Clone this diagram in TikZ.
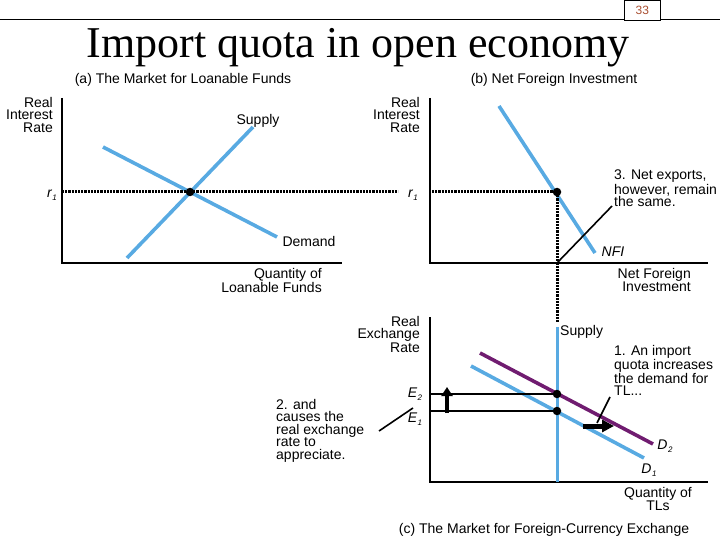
\documentclass[tikz,border=0pt]{standalone}
\usepackage{fontspec}
\setmainfont{Liberation Sans}
\newfontfamily\titlefont{Liberation Serif}
\usetikzlibrary{arrows.meta}
\definecolor{curveblue}{RGB}{88,170,226}
\definecolor{curvepurple}{RGB}{112,28,112}
\definecolor{pagenum}{RGB}{170,80,50}
\tikzset{
  lbl/.style={inner sep=0pt, font=\fontsize{14}{12.5}\selectfont},
  axis/.style={line width=2.6pt},
  curve/.style={line width=3.6pt, color=curveblue},
  curveD/.style={line width=3.6pt, color=curvepurple},
  dotline/.style={line width=3pt, dash pattern=on 2.2pt off 1pt},
  guide/.style={line width=1.6pt},
  eqdot/.style={circle, fill=black, inner sep=0pt, minimum size=8.5pt},
  pointer/.style={line width=1.6pt},
}
\begin{document}
\begin{tikzpicture}[x=1pt,y=-1pt]
\useasboundingbox (0,0) rectangle (720,540);
% header
\draw[line width=1pt] (0,20) -- (720,20);
\node[draw, line width=0.6pt, fill=white, minimum width=36pt, minimum height=20pt, inner sep=0pt, anchor=north west, font=\fontsize{12}{12}\selectfont, text=pagenum] (pg) at (624,0) {33};
\node[inner sep=0pt, font=\titlefont\fontsize{44}{44}\selectfont] (title) at (358,48) {Import quota in open economy};

% ===== panel (a)
\node[lbl] (ta) at (183,80) {(a) The Market for Loanable Funds};
\coordinate (aO) at (62,263);
\coordinate (aT) at (62,98);
\coordinate (aR) at (342,263);
\draw[axis] (aT) -- (aO) -- (aR);
\node[lbl, align=right, anchor=north east] (ay) at (53,97) {Real\\Interest\\Rate};
\coordinate (sa1) at (127,258);
\coordinate (sa2) at (253,127);
\coordinate (da1) at (103,147);
\coordinate (da2) at (277,237);
\draw[curve] (sa1) -- (sa2);
\draw[curve] (da1) -- (da2);
\node[lbl] (suppa) at (258,121) {Supply};
\node[lbl] (dema) at (309,241) {Demand};
\node[lbl, align=right, anchor=north east] (qa) at (322,268) {Quantity of\\Loanable Funds};
\node[lbl] (r1a) at (52,195) {\itshape r\kern0.5pt\raisebox{-2.5pt}{\fontsize{8}{8}\selectfont 1}};
\node[eqdot] (ea) at (190,192) {};

% ===== panel (b)
\node[lbl] (tb) at (554,80) {(b) Net Foreign Investment};
\coordinate (bO) at (430,263);
\coordinate (bT) at (430,98);
\coordinate (bR) at (708,263);
\draw[axis] (bT) -- (bO) -- (bR);
\node[lbl, align=right, anchor=north east] (by) at (420,97) {Real\\Interest\\Rate};
\coordinate (n1) at (499,106);
\coordinate (n2) at (595,253);
\draw[curve] (n1) -- (n2);
\node[lbl] (nfi) at (613,252) {\itshape NFI};
\node[lbl, align=right, anchor=north east] (qb) at (691,268) {Net Foreign\\Investment};
\node[lbl] (r1b) at (413,195) {\itshape r\kern0.5pt\raisebox{-2.5pt}{\fontsize{8}{8}\selectfont 1}};
\node[eqdot] (eb) at (557,192) {};
\node[lbl, align=left, anchor=north west] (n3) at (614,170) {3. Net exports,\\however, remain\\the same.};
\coordinate (p3a) at (557,263);
\coordinate (p3b) at (612,206);
\draw[pointer] (p3a) -- (p3b);

% dotted r1 line
\coordinate (dl0) at (62,192);
\coordinate (dl1) at (398,192);
\coordinate (dl2) at (432,192);
\draw[dotline] (dl0) -- (dl1);
\draw[dotline] (dl2) -- (eb.center);
\coordinate (vd) at (557,323);
\draw[dotline] (eb.center) -- (vd);

% ===== panel (c)
\coordinate (cO) at (430,482);
\coordinate (cT) at (430,317);
\coordinate (cR) at (708,482);
\draw[axis] (cT) -- (cO) -- (cR);
\node[lbl, align=right, anchor=north east] (cy) at (420,316) {Real\\Exchange\\Rate};
\coordinate (s1) at (557,327);
\coordinate (s2) at (557,482);
\draw[curve, line width=3pt] (s1) -- (s2);
\node[lbl, anchor=west] (suppc) at (560,332) {Supply};
\coordinate (d11) at (471,366);
\coordinate (d12) at (644,458);
\coordinate (d21) at (480,353);
\coordinate (d22) at (653,444);
\draw[curve] (d11) -- (d12);
\draw[curveD] (d21) -- (d22);
\node[eqdot] (e2) at (557,394) {};
\node[eqdot] (e1) at (557,411) {};
\coordinate (e2l) at (430,394);
\coordinate (e1l) at (430,411);
\draw[guide] (e2l) -- (e2.center);
\draw[guide] (e1l) -- (e1.center);
\node[lbl] (E2) at (415,394) {\itshape E\kern0.5pt\raisebox{-2.5pt}{\fontsize{8}{8}\selectfont 2}};
\node[lbl] (E1) at (415,419) {\itshape E\kern0.5pt\raisebox{-2.5pt}{\fontsize{8}{8}\selectfont 1}};
\node[lbl] (D2) at (665,446) {\itshape D\kern0.5pt\raisebox{-2.5pt}{\fontsize{8}{8}\selectfont 2}};
\node[lbl] (D1) at (649,470) {\itshape D\kern0.5pt\raisebox{-2.5pt}{\fontsize{8}{8}\selectfont 1}};
% arrows
\coordinate (ua1) at (447,413);
\coordinate (ua2) at (447,387);
\draw[line width=3.5pt, -{Triangle[width=11pt,length=9pt]}] (ua1) -- (ua2);
\coordinate (ra1) at (583,426);
\coordinate (ra2) at (614,426);
\draw[line width=5pt, -{Triangle[width=12pt,length=12pt]}] (ra1) -- (ra2);
% annotations
\node[lbl, align=left, anchor=north west] (n1t) at (614,345) {1. An import\\quota increases\\the demand for\\TL...};
\coordinate (p1a) at (610,397);
\coordinate (p1b) at (597,423);
\draw[pointer] (p1a) -- (p1b);
\node[lbl, align=left, anchor=north west] (n2t) at (276,399) {2. and\\causes the\\real exchange\\rate to\\appreciate.};
\coordinate (p2a) at (379,431);
\coordinate (p2b) at (413,408);
\draw[pointer] (p2a) -- (p2b);
\node[lbl, align=center] (qc) at (658,499) {Quantity of\\TLs};
\node[lbl] (tc) at (544,530) {(c) The Market for Foreign-Currency Exchange};
\end{tikzpicture}
\end{document}
